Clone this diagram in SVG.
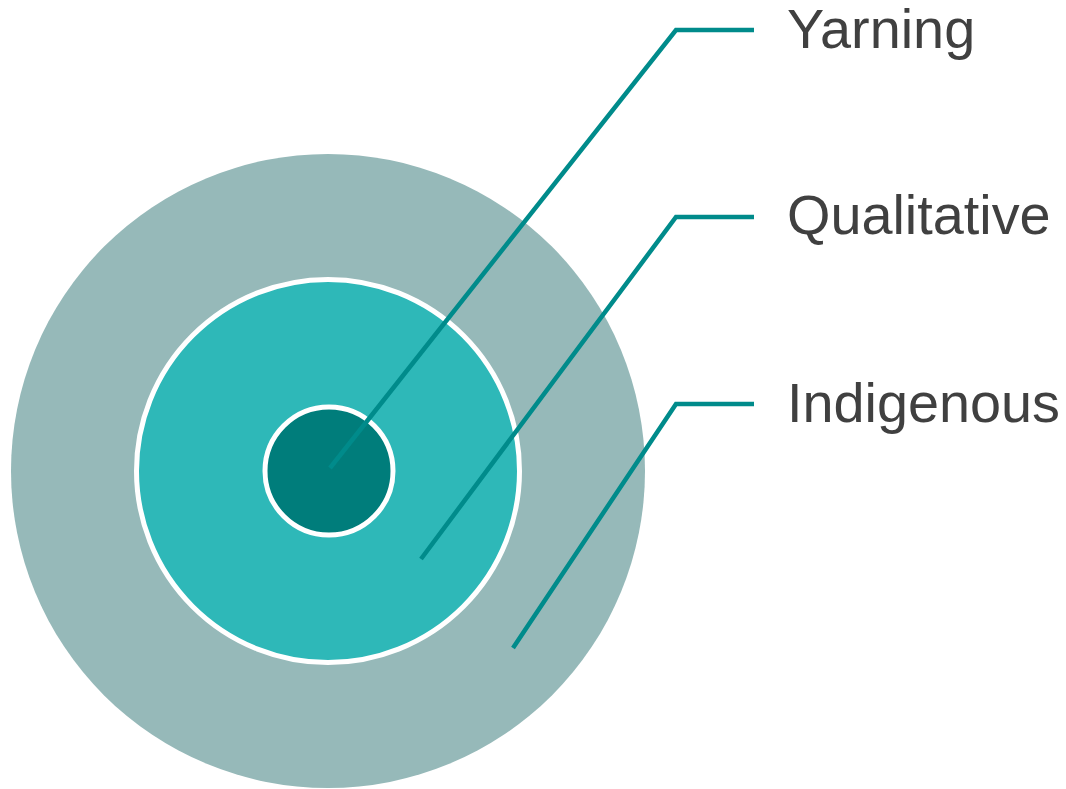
<svg xmlns="http://www.w3.org/2000/svg" width="1066" height="789" viewBox="0 0 1066 789">
<style>
.lbl{font-family:"Liberation Sans",Arial,sans-serif;font-size:55.8px;fill:#404040}
.ln{fill:none;stroke:#008B8B;stroke-width:4.5}
.ring{stroke:#FFFFFF;stroke-width:5}
</style>
<rect width="1066" height="789" fill="#FFFFFF"/>
<g id="node-indigenous">
<circle cx="328" cy="471" r="317" fill="#96B9B9"/>
</g>
<g id="node-qualitative">
<circle class="ring" cx="328" cy="471" r="191.5" fill="#2EB8B8"/>
</g>
<g id="node-yarning">
<circle class="ring" cx="329" cy="471" r="64" fill="#007D7B"/>
</g>
<g id="connectors">
<polyline class="ln" points="330,468 676,30 754,30"/>
<polyline class="ln" points="421,559 676,217 754,217"/>
<polyline class="ln" points="513,648 676,404 754,404"/>
</g>
<g id="labels">
<text class="lbl" x="787" y="48">Yarning</text>
<text class="lbl" x="787" y="234">Qualitative</text>
<text class="lbl" x="787" y="422">Indigenous</text>
</g>
</svg>
